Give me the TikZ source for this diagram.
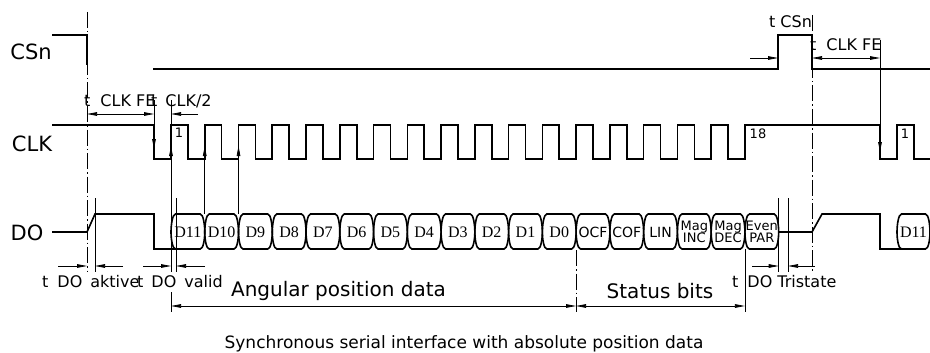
\documentclass[tikz,border=0pt]{standalone}
\usepackage{fontspec}
\setmainfont{DejaVu Sans}
\newfontfamily\serifcell{Liberation Serif}
\usetikzlibrary{arrows.meta}
\newcommand\dcell{\serifcell\fontsize{16}{16}\selectfont}
\newcommand\scell{\fontsize{14}{14}\selectfont}
\begin{document}
\begin{tikzpicture}[x=1pt,y=-1pt,
  sig/.style={line width=1.6pt, line join=miter},
  dimln/.style={line width=0.75pt},
  tip/.style={dimln,-{Triangle[length=10pt,width=3.6pt]}},
  dtip/.style={dimln,{Triangle[length=10pt,width=3.6pt]}-{Triangle[length=10pt,width=3.6pt]}},
  axisln/.style={line width=0.75pt, dash pattern=on 16pt off 3pt on 1.5pt off 3pt},
  lbl/.style={font=\fontsize{21}{21}\selectfont, inner sep=0pt},
  sm/.style={font=\fontsize{16}{16}\selectfont, inner sep=0pt},
  num/.style={font=\fontsize{13}{13}\selectfont, inner sep=0pt},
  big/.style={font=\fontsize{20}{20}\selectfont, inner sep=0pt},
  cell/.style={font=\fontsize{13}{12.5}\selectfont, inner sep=0pt, align=center}
]
\useasboundingbox (0,0) rectangle (930,353);

% signal names
\node[lbl] (csn) at (31,52) {CSn};
\node[lbl] (clk) at (32,144) {CLK};
\node[lbl] (do)  at (27,233) {DO};

% centre lines
\draw[axisln] (87,12) -- (87,272);
\draw[axisln] (812,15) -- (812,272);
\draw[axisln] (576,250) -- (576,312);

% CSn
\draw[sig] (52,35) -- (87,35) -- (87,65);
\draw[sig] (153,69) -- (778,69) -- (778,35) -- (812,35) -- (812,69) -- (930,69);

% CLK
\draw[sig] (52,125) -- (154,125) -- (154,159)
  \foreach \k in {0,...,16} {
    -- ({171+33.76*\k},159) -- ({171+33.76*\k},125)
    -- ({187.9+33.76*\k},125) -- ({187.9+33.76*\k},159) }
  -- (744.92,159) -- (744.92,125) -- (880,125) -- (880,159)
  -- (897,159) -- (897,125) -- (914,125) -- (914,159) -- (930,159);
\node[num] (n1) at (179,133) {1};
\node[num] (n18) at (758,134) {18};
\node[num] (n1b) at (905,134) {1};

% DO
\draw[sig] (52,232) -- (87,232) -- (95,214) -- (154,214) -- (154,249) -- (175.5,249);
\foreach \lab [count=\k from 0] in {{\dcell D11},{\dcell D10},{\dcell D9},{\dcell D8},{\dcell D7},{\dcell D6},{\dcell D5},{\dcell D4},{\dcell D3},{\dcell D2},{\dcell D1},{\dcell D0},{\scell OCF},{\scell COF},{\scell LIN},{Mag\\INC},{Mag\\DEC},{Even\\PAR}} {
  \pgfmathsetmacro\a{171+33.76*\k}
  \pgfmathsetmacro\b{\a+33.76}
  \draw[sig] ({\a+4.5},214) -- ({\b-4.5},214) .. controls ({\b-1.5},214) and (\b,225) .. (\b,232)
    .. controls (\b,239) and ({\b-1.5},249) .. ({\b-4.5},249) -- ({\a+4.5},249)
    .. controls ({\a+1.5},249) and (\a,239) .. (\a,232) .. controls (\a,225) and ({\a+1.5},214) .. cycle;
  \node[cell] (c\k) at ({\a+16.88},232) {\lab};
}
\draw[sig] (778.7,232) -- (812,232) -- (822,214) -- (880,214) -- (880,249) -- (901.5,249);
\draw[sig] (901.5,214) -- (925.5,214) .. controls (928.5,214) and (930,225) .. (930,232)
  .. controls (930,239) and (928.5,249) .. (925.5,249) -- (901.5,249)
  .. controls (898.5,249) and (897,239) .. (897,232) .. controls (897,225) and (898.5,214) .. cycle;
\node[cell] (cend) at (913.5,232) {\dcell D11};

% vertical reference lines with arrows
\draw[tip] (154,100) -- (154,149);
\draw[dimln] (171,100) -- (171,125);
\draw[tip] (171,272) -- (171,146);
\draw[tip] (204.76,214) -- (204.76,146);
\draw[tip] (238.52,214) -- (238.52,146);
\draw[tip] (880,40) -- (880,152);

% extension lines
\draw[dimln] (95,198) -- (95,272);
\draw[dimln] (176,198) -- (176,272);
\draw[dimln] (778.7,198) -- (778.7,272);
\draw[dimln] (788,198) -- (788,272);
\draw[dimln] (744.92,249) -- (744.92,312);
\draw[dimln] (171,292) -- (171,312);

% dimension arrows
\draw[dtip] (87,114) -- (154,114);
\draw[tip] (198,114) -- (171,114);
\draw[tip] (58,266) -- (87,266);
\draw[tip] (123,266) -- (95,266);
\draw[tip] (143,266) -- (171,266);
\draw[tip] (205,266) -- (176,266);
\draw[dtip] (171,306) -- (576,306);
\draw[dtip] (576,306) -- (744.92,306);
\draw[tip] (752,266) -- (778.7,266);
\draw[tip] (815,266) -- (788,266);
\draw[tip] (750,58) -- (778,58);
\draw[dtip] (812,58) -- (880,58);

% dimension texts
\node[sm,anchor=west] (tclkfe) at (84,101) {t\hspace{10pt}CLK FE};
\node[sm,anchor=west] (tclk2) at (151,101) {t\hspace{8pt}CLK/2};
\node[sm,anchor=west] (tcsn) at (769,22) {t\hspace{5pt}CSn};
\node[sm,anchor=west] (tclkfe2) at (810,45) {t\hspace{10pt}CLK FE};
\node[sm,anchor=west] (tdoa) at (42,282) {t\hspace{9pt}DO\hspace{8pt}aktive};
\node[sm,anchor=west] (tdov) at (137,282) {t\hspace{8pt}DO\hspace{8pt}valid};
\node[sm,anchor=west] (tdot) at (732,282) {t\hspace{9pt}DO\hspace{5pt}Tristate};
\node[big] (ang) at (338.5,291) {Angular position data};
\node[big] (stat) at (660,291) {Status bits};
\node[font=\fontsize{17}{17}\selectfont, inner sep=0pt] (cap) at (464,344) {Synchronous serial interface with absolute position data};
\end{tikzpicture}
\end{document}
